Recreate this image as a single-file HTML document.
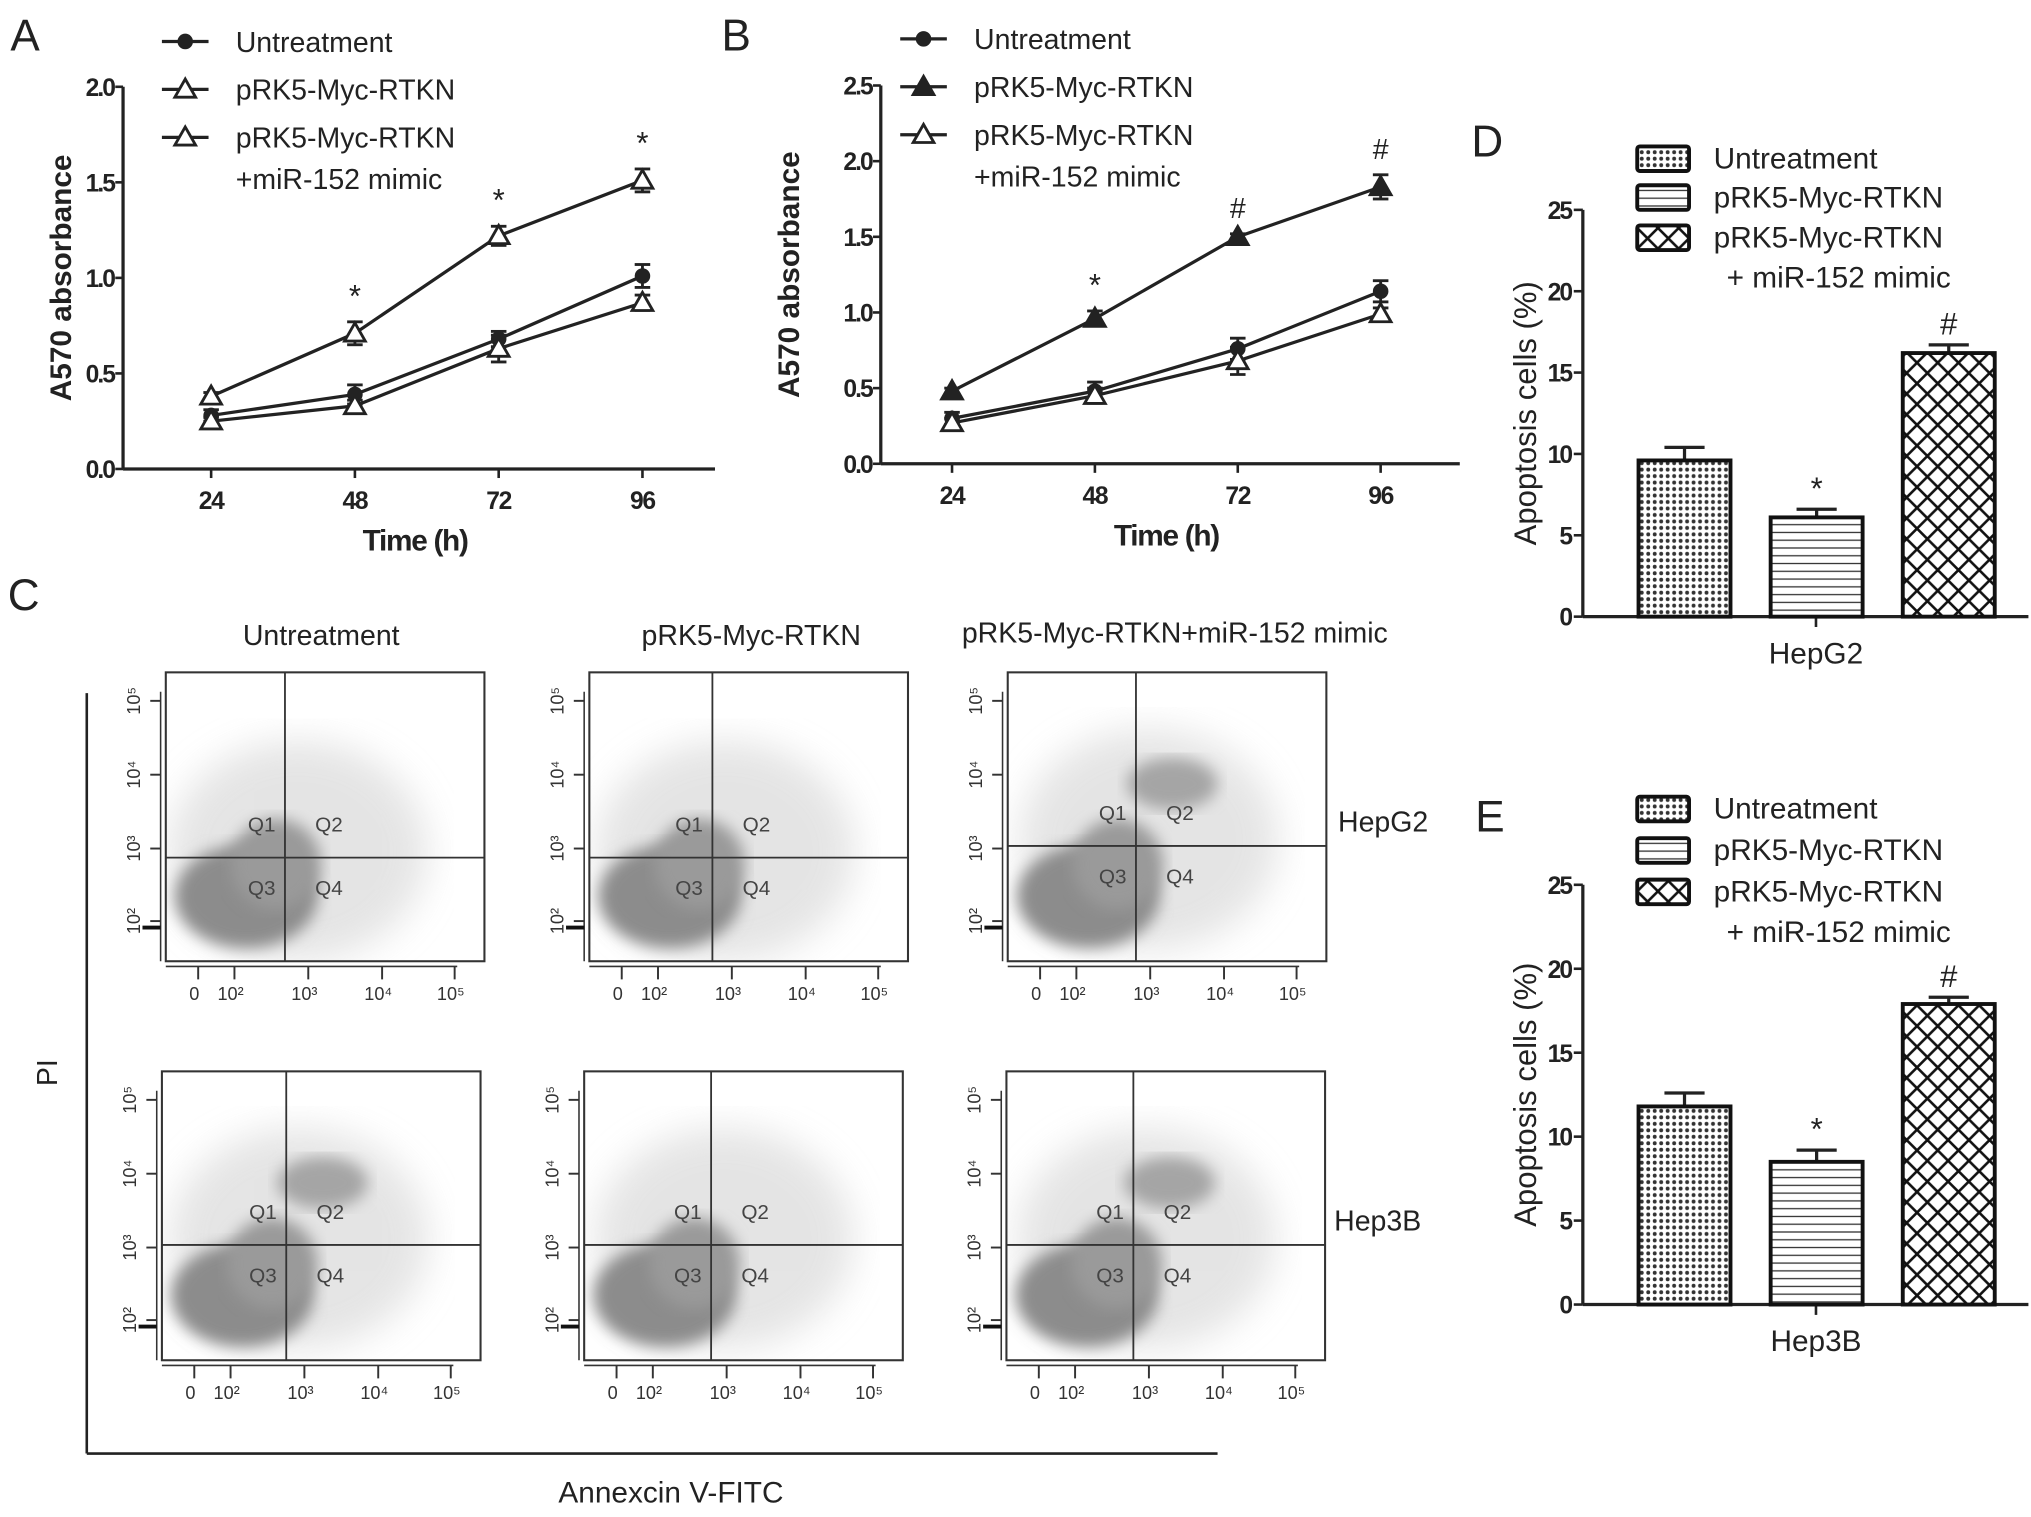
<!DOCTYPE html>
<html><head><meta charset="utf-8">
<style>
html,body{margin:0;padding:0;background:#fff;}
svg{display:block;font-family:"Liberation Sans",Arial,sans-serif;}
</style></head>
<body>
<svg id="fig" width="2031" height="1517" viewBox="0 0 1568 1171" preserveAspectRatio="none" xmlns="http://www.w3.org/2000/svg">
<defs>
<pattern id="pDots" width="5" height="5" patternUnits="userSpaceOnUse"><rect width="5" height="5" fill="#fff"/><circle cx="2.5" cy="2.5" r="1.5" fill="#333"/></pattern>
<pattern id="pLines" width="6" height="6" patternUnits="userSpaceOnUse"><rect width="6" height="6" fill="#fff"/><line x1="0" y1="3" x2="6" y2="3" stroke="#333" stroke-width="1"/></pattern>
<pattern id="pCross" width="16" height="16" patternUnits="userSpaceOnUse"><rect width="16" height="16" fill="#fff"/><path d="M0 0L16 16M16 0L0 16" stroke="#111" stroke-width="2"/></pattern>
<filter id="blur6"><feGaussianBlur stdDeviation="6"/></filter>
<filter id="blur14"><feGaussianBlur stdDeviation="14"/></filter>
</defs>
<g id="root"></g>
</svg>
<script>
// ---- Panel A data ----
const timesA = [24, 48, 72, 96];
const untreatA = [0.28, 0.39, 0.68, 1.01];
const untreatAErr = [0.03, 0.05, 0.04, 0.06];
const rtknA = [0.38, 0.71, 1.22, 1.51];
const rtknAErr = [0.02, 0.06, 0.05, 0.06];
const mimicA = [0.25, 0.33, 0.63, 0.87];
const mimicAErr = [0.02, 0.03, 0.07, 0.04];
const ticksA = ["0.0", "0.5", "1.0", "1.5", "2.0"];
const marksA = ["", "*", "*", "*"];
// ---- Panel B data ----
const timesB = [24, 48, 72, 96];
const untreatB = [0.30, 0.48, 0.76, 1.14];
const untreatBErr = [0.04, 0.06, 0.07, 0.07];
const rtknB = [0.48, 0.96, 1.50, 1.83];
const rtknBErr = [0.02, 0.05, 0.02, 0.08];
const mimicB = [0.27, 0.45, 0.68, 0.99];
const mimicBErr = [0.03, 0.05, 0.09, 0.04];
const ticksB = ["0.0", "0.5", "1.0", "1.5", "2.0", "2.5"];
const marksB = ["", "*", "#", "#"];
// ---- Panel D / E data ----
const groups = ["Untreatment", "pRK5-Myc-RTKN", "pRK5-Myc-RTKN+miR-152 mimic"];
const apopD = [9.6, 6.1, 16.2];
const apopDErr = [0.8, 0.5, 0.5];
const apopE = [11.8, 8.5, 17.9];
const apopEErr = [0.8, 0.7, 0.4];
const ticksBar = ["0", "5", "10", "15", "20", "25"];
const marksBar = ["", "*", "#"];

const NS = "http://www.w3.org/2000/svg";
const root = document.getElementById('root');
function mk(tag, attrs, parent, text) {
  const e = document.createElementNS(NS, tag);
  for (const k in attrs) e.setAttribute(k, attrs[k]);
  if (text !== undefined) e.textContent = text;
  (parent || root).appendChild(e);
  return e;
}
function txt(x, y, s, size, opts, name) {
  const o = Object.assign({x: x, y: y, 'font-size': size, fill: '#222'}, opts || {});
  const e = mk('text', o, null, s);
  
  
  return e;
}
function ln(x1, y1, x2, y2, w, name, color) {
  const e = mk('line', {x1: x1, y1: y1, x2: x2, y2: y2, stroke: color || '#222', 'stroke-width': w});
  
  
  return e;
}
function marker(type, x, y, name) {
  let e;
  if (type === 'circle') e = mk('circle', {cx: x, cy: y, r: 6, fill: '#222'});
  else {
    const s = 8;
    const pts = `${x},${y - s} ${x - s},${y + s * 0.75} ${x + s},${y + s * 0.75}`;
    e = mk('polygon', {points: pts, fill: type === 'tri-filled' ? '#222' : '#fff', stroke: '#222', 'stroke-width': 2.2});
  }
  
  
}

// ---- line chart ----
function lineChart(p) {
  const xs = t => p.x24 + (t - 24) / 24 * p.dx;
  const ys = v => p.y0 - v / p.vmax * (p.y0 - p.ytop);
  ln(p.ax, p.ytop, p.ax, p.y0, 2.5, 'y-axis');
  ln(p.ax, p.y0, p.axEnd, p.y0, 2.5, 'x-axis');
  p.ticks.forEach((t, i) => {
    const v = parseFloat(t);
    ln(p.ax - 6, ys(v), p.ax, ys(v), 2, 'y-tick');
    txt(p.ax - 7, ys(v) + 7, t, 19, {'text-anchor': 'end', 'font-weight': 'bold', 'letter-spacing': '-1.5'}, 'y-tick-label');
  });
  p.times.forEach(t => {
    ln(xs(t), p.y0, xs(t), p.y0 + 7, 2, 'x-tick');
    txt(xs(t), p.y0 + 31, String(t), 19, {'text-anchor': 'middle', 'font-weight': 'bold', 'letter-spacing': '-1'}, 'x-tick-label');
  });
  txt((p.ax + p.axEnd) / 2 - 3, p.y0 + 63, 'Time (h)', 23, {'text-anchor': 'middle', 'font-weight': 'bold', 'letter-spacing': '-1'}, 'x-axis-title');
  txt(0, 0, 'A570 absorbance', 23, {'text-anchor': 'middle', 'font-weight': 'bold', transform: `translate(${p.ytx},${(p.ytop + p.y0) / 2}) rotate(-90)`}, 'y-axis-title');
  p.series.forEach(s => {
    const d = s.vals.map((v, i) => (i ? 'L' : 'M') + xs(p.times[i]) + ' ' + ys(v)).join(' ');
    const pe = mk('path', {d: d, fill: 'none', stroke: '#222', 'stroke-width': 2.5});
    
    
    s.vals.forEach((v, i) => {
      const x = xs(p.times[i]);
      ln(x, ys(v - s.err[i]), x, ys(v + s.err[i]), 2.2, 'error-bar');
      ln(x - 6, ys(v + s.err[i]), x + 6, ys(v + s.err[i]), 2.2, 'error-cap');
      ln(x - 6, ys(v - s.err[i]), x + 6, ys(v - s.err[i]), 2.2, 'error-cap');
      marker(s.type, x, ys(v), s.name + '-point');
    });
  });
  const top = p.series[p.markIdx];
  p.marks.forEach((m, i) => {
    if (!m) return;
    const x = xs(p.times[i]);
    txt(x, ys(top.vals[i] + top.err[i]) - 12, m, m === '*' ? 24 : 22, {'text-anchor': 'middle'}, 'significance-mark');
  });
  p.legend.forEach((l, i) => {
    const y = p.legY[i];
    ln(p.legX, y, p.legX + 36, y, 2.5, 'legend-line');
    marker(l.type, p.legX + 18, y, 'legend-marker');
    txt(p.legX + 57, y + 8, l.label, 22, {}, 'legend-label');
    if (l.label2) txt(p.legX + 57, y + 40, l.label2, 22, {}, 'legend-label');
  });
}

txt(8, 39, 'A', 34, {}, 'panel-label-a');
lineChart({ax: 95, axEnd: 552, y0: 362, ytop: 67, vmax: 2, x24: 163, dx: 111, ytx: 55,
  ticks: ticksA, times: timesA, marks: marksA, markIdx: 1,
  series: [{name: 'untreatment', vals: untreatA, err: untreatAErr, type: 'circle'},
           {name: 'prk5-myc-rtkn', vals: rtknA, err: rtknAErr, type: 'tri-open'},
           {name: 'prk5-mimic', vals: mimicA, err: mimicAErr, type: 'tri-open'}],
  legX: 125, legY: [32, 69, 106],
  legend: [{type: 'circle', label: 'Untreatment'}, {type: 'tri-open', label: 'pRK5-Myc-RTKN'},
           {type: 'tri-open', label: 'pRK5-Myc-RTKN', label2: '+miR-152 mimic'}]});

txt(557, 39, 'B', 34, {}, 'panel-label-b');
lineChart({ax: 680, axEnd: 1127, y0: 358, ytop: 66, vmax: 2.5, x24: 735, dx: 110.3, ytx: 617,
  ticks: ticksB, times: timesB, marks: marksB, markIdx: 1,
  series: [{name: 'untreatment', vals: untreatB, err: untreatBErr, type: 'circle'},
           {name: 'prk5-myc-rtkn', vals: rtknB, err: rtknBErr, type: 'tri-filled'},
           {name: 'prk5-mimic', vals: mimicB, err: mimicBErr, type: 'tri-open'}],
  legX: 695, legY: [30, 67, 104],
  legend: [{type: 'circle', label: 'Untreatment'}, {type: 'tri-filled', label: 'pRK5-Myc-RTKN'},
           {type: 'tri-open', label: 'pRK5-Myc-RTKN', label2: '+miR-152 mimic'}]});

// ---- bar charts ----
const fills = ['url(#pDots)', 'url(#pLines)', 'url(#pCross)'];
function barChart(p) {
  const ys = v => p.y0 - v / 25 * (p.y0 - p.ytop);
  ln(1222, p.ytop, 1222, p.y0, 2.5, 'y-axis');
  ln(1222, p.y0, 1566, p.y0, 2.5, 'x-axis');
  ln(1402, p.y0, 1402, p.y0 + 8, 2, 'x-tick');
  p.ticks.forEach(t => {
    const v = parseFloat(t);
    ln(1215, ys(v), 1222, ys(v), 2, 'y-tick');
    txt(1213, ys(v) + 7, t, 19, {'text-anchor': 'end', 'font-weight': 'bold', 'letter-spacing': '-1.5'}, 'y-tick-label');
  });
  p.vals.forEach((v, i) => {
    const x = 1265 + i * 102;
    ln(x + 35.5, ys(v), x + 35.5, ys(v + p.err[i]), 2.5, 'error-bar');
    ln(x + 20, ys(v + p.err[i]), x + 51, ys(v + p.err[i]), 2.5, 'error-cap');
    const r = mk('rect', {x: x, y: ys(v), width: 71, height: ys(0) - ys(v), fill: fills[i], stroke: '#111', 'stroke-width': 3});
    
    
    if (p.marks[i]) txt(x + 35.5, ys(v + p.err[i]) - 8, p.marks[i], 24, {'text-anchor': 'middle'}, 'significance-mark');
  });
  txt(1402, p.y0 + 36, p.cat, 23, {'text-anchor': 'middle'}, 'x-category-label');
  txt(0, 0, 'Apoptosis cells (%)', 24, {'text-anchor': 'middle', transform: `translate(1186,${(p.ytop + p.y0) / 2}) rotate(-90)`}, 'y-axis-title');
  const labs = ['Untreatment', 'pRK5-Myc-RTKN', 'pRK5-Myc-RTKN'];
  labs.forEach((l, i) => {
    const y = p.legY[i];
    const r = mk('rect', {x: 1264, y: y - 9, width: 40, height: 19, rx: 2, fill: fills[i], stroke: '#111', 'stroke-width': 3});
    
    
    txt(1323, y + 8, l, 23, {}, 'legend-label');
  });
  txt(1333, p.legY[2] + 39, '+ miR-152 mimic', 23, {}, 'legend-label');
}
txt(1136, 121, 'D', 34, {}, 'panel-label-d');
barChart({y0: 476, ytop: 162, vals: apopD, err: apopDErr, ticks: ticksBar, marks: marksBar, cat: 'HepG2', legY: [122, 152, 183]});
txt(1139, 642, 'E', 34, {}, 'panel-label-e');
barChart({y0: 1007, ytop: 683, vals: apopE, err: apopEErr, ticks: ticksBar, marks: marksBar, cat: 'Hep3B', legY: [624, 656, 688]});

// ---- Panel C: flow cytometry ----
txt(6, 471, 'C', 34, {}, 'panel-label-c');
txt(248, 498, 'Untreatment', 22, {'text-anchor': 'middle'}, 'column-title');
txt(580, 498, 'pRK5-Myc-RTKN', 22, {'text-anchor': 'middle'}, 'column-title');
txt(907, 496, 'pRK5-Myc-RTKN+miR-152 mimic', 22, {'text-anchor': 'middle'}, 'column-title');
txt(1033, 642, 'HepG2', 22, {}, 'row-label');
txt(1030, 950, 'Hep3B', 22, {}, 'row-label');
ln(67, 535, 67, 1122, 2, 'big-y-axis');
ln(67, 1122, 940, 1122, 2, 'big-x-axis');
txt(0, 0, 'PI', 22, {'text-anchor': 'middle', transform: 'translate(44,828) rotate(-90)'}, 'pi-axis-title');
txt(518, 1160, 'Annexcin V-FITC', 23, {'text-anchor': 'middle'}, 'annexin-axis-title');

const boxes = [
  {x: 128, y: 519, vx: 220, hy: 662, q2: false},
  {x: 455, y: 519, vx: 550, hy: 662, q2: false},
  {x: 778, y: 519, vx: 877, hy: 653, q2: true},
  {x: 125, y: 827, vx: 221, hy: 961, q2: true},
  {x: 451, y: 827, vx: 549, hy: 961, q2: false},
  {x: 777, y: 827, vx: 875, hy: 961, q2: true}
];
boxes.forEach((b, k) => {
  const W = 246, H = 223;
  const g = mk('g', {});
  
  
  const clip = mk('clipPath', {id: 'clip' + k}, g);
  mk('rect', {x: b.x, y: b.y, width: W, height: H}, clip);
  const cg = mk('g', {'clip-path': `url(#clip${k})`}, g);
  mk('ellipse', {cx: b.vx + 10, cy: b.hy - 5, rx: 100, ry: 85, fill: '#dcdcdc', filter: 'url(#blur14)', opacity: 0.75}, cg);
  mk('ellipse', {cx: b.x + 62, cy: b.y + H - 50, rx: 55, ry: 40, fill: '#8c8c8c', filter: 'url(#blur6)'}, cg);
  mk('ellipse', {cx: b.x + 85, cy: b.y + H - 75, rx: 35, ry: 35, fill: '#9a9a9a', filter: 'url(#blur6)'}, cg);
  if (b.q2) mk('ellipse', {cx: b.vx + 28, cy: b.hy - 48, rx: 35, ry: 20, fill: '#a5a5a5', filter: 'url(#blur6)'}, cg);
  mk('rect', {x: b.x, y: b.y, width: W, height: H, fill: 'none', stroke: '#333', 'stroke-width': 1.6}, g);
  mk('line', {x1: b.vx, y1: b.y, x2: b.vx, y2: b.y + H, stroke: '#333', 'stroke-width': 1.4}, g);
  mk('line', {x1: b.x, y1: b.hy, x2: b.x + W, y2: b.hy, stroke: '#333', 'stroke-width': 1.4}, g);
  [['Q1', b.vx - 18, b.hy - 20], ['Q2', b.vx + 34, b.hy - 20], ['Q3', b.vx - 18, b.hy + 29], ['Q4', b.vx + 34, b.hy + 29]].forEach(q => {
    mk('text', {x: q[1], y: q[2], 'font-size': 16, 'text-anchor': 'middle', fill: '#444'}, g, q[0]);
  });
  const xl = [['0', 22], ['10²', 50], ['10³', 107], ['10⁴', 164], ['10⁵', 220]];
  xl.forEach(t => {
    mk('text', {x: b.x + t[1], y: b.y + H + 30, 'font-size': 14, 'text-anchor': 'middle', fill: '#333'}, g, t[0]);
    mk('line', {x1: b.x + t[1] + 3, y1: b.y + H + 4, x2: b.x + t[1] + 3, y2: b.y + H + 14, stroke: '#333', 'stroke-width': 1.5}, g);
  });
  mk('line', {x1: b.x, y1: b.y + H + 4, x2: b.x + 225, y2: b.y + H + 4, stroke: '#333', 'stroke-width': 1.2}, g);
  [['10⁵', 22], ['10⁴', 79], ['10³', 136], ['10²', 192]].forEach(t => {
    mk('text', {'font-size': 14, 'text-anchor': 'middle', fill: '#333', transform: `translate(${b.x - 20},${b.y + t[1]}) rotate(-90)`}, g, t[0]);
    mk('line', {x1: b.x - 12, y1: b.y + t[1], x2: b.x - 4, y2: b.y + t[1], stroke: '#333', 'stroke-width': 1.5}, g);
  });
  mk('line', {x1: b.x - 4, y1: b.y + 15, x2: b.x - 4, y2: b.y + H, stroke: '#333', 'stroke-width': 1.2}, g);
  mk('line', {x1: b.x - 18, y1: b.y + 197, x2: b.x - 4, y2: b.y + 197, stroke: '#111', 'stroke-width': 3}, g);
});
</script>
</body></html>
